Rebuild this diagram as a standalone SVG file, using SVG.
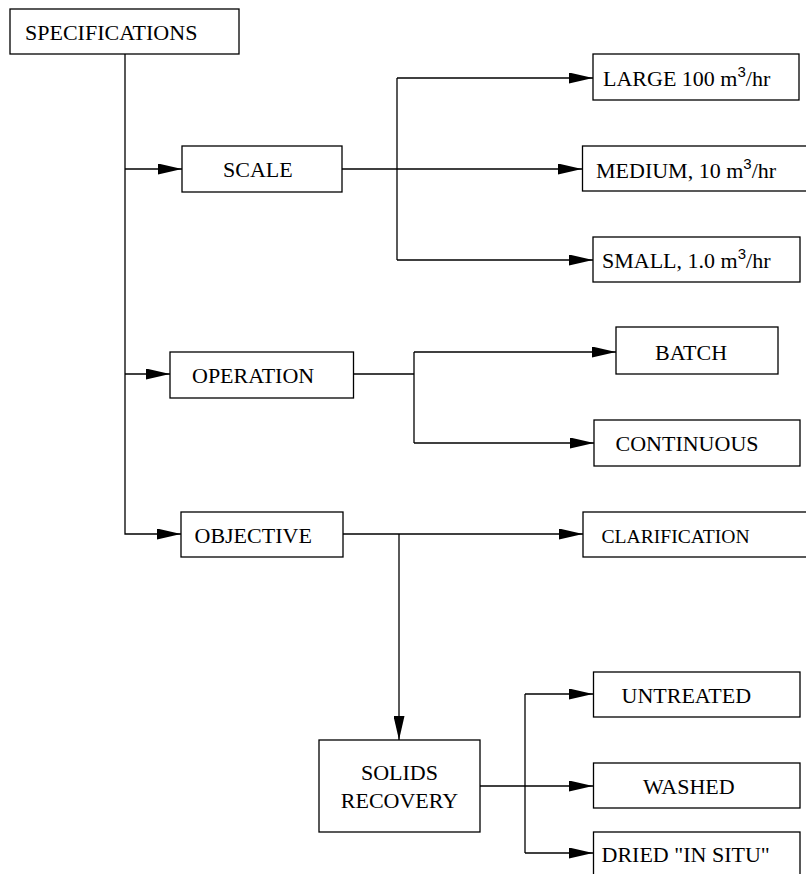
<svg xmlns="http://www.w3.org/2000/svg" width="806" height="874" viewBox="0 0 806 874">
<style>
.box{fill:#fff;stroke:#000;stroke-width:1.3}
text{font-family:'Liberation Serif','Times New Roman','DejaVu Serif',serif;font-size:22px;fill:#000}
.sup{font-family:'Liberation Sans',Arial,sans-serif;font-size:15px}
.c{fill:none;stroke:#000;stroke-width:1.3}
</style>
<defs>
<marker id="ah" viewBox="0 0 24 11" refX="24" refY="5.5" markerWidth="24" markerHeight="11" markerUnits="userSpaceOnUse" orient="auto">
<path d="M0,0 L24,5.5 L0,11 z" fill="#000"/>
</marker>
</defs>
<rect width="806" height="874" fill="#fff"/>
<g id="connectors">
<path class="c" d="M125,54 V534 H181" marker-end="url(#ah)"/>
<path class="c" d="M125,169 H182" marker-end="url(#ah)"/>
<path class="c" d="M125,374 H170" marker-end="url(#ah)"/>
<path class="c" d="M342,169 H582" marker-end="url(#ah)"/>
<path class="c" d="M397,78 V260"/>
<path class="c" d="M397,78 H593" marker-end="url(#ah)"/>
<path class="c" d="M397,260 H593" marker-end="url(#ah)"/>
<path class="c" d="M353.5,374 H414"/>
<path class="c" d="M414,352 V443"/>
<path class="c" d="M414,352 H616" marker-end="url(#ah)"/>
<path class="c" d="M414,443 H594" marker-end="url(#ah)"/>
<path class="c" d="M343,534 H583" marker-end="url(#ah)"/>
<path class="c" d="M399,534 V740" marker-end="url(#ah)"/>
<path class="c" d="M480,786 H593" marker-end="url(#ah)"/>
<path class="c" d="M525,694 V853"/>
<path class="c" d="M525,694 H593" marker-end="url(#ah)"/>
<path class="c" d="M525,853 H593" marker-end="url(#ah)"/>
</g>
<g id="specifications">
<rect class="box" x="10" y="9" width="229" height="45"/>
<text x="25" y="40">SPECIFICATIONS</text>
</g>
<g id="scale">
<rect class="box" x="182" y="146" width="160" height="46"/>
<text x="223" y="177">SCALE</text>
</g>
<g id="large">
<rect class="box" x="593" y="54" width="206" height="46"/>
<text x="603" y="86">LARGE 100 m<tspan class="sup" dy="-9">3</tspan><tspan dy="9">/hr</tspan></text>
</g>
<g id="medium">
<rect class="box" x="582.5" y="146" width="230" height="45"/>
<text x="596" y="178">MEDIUM, 10 m<tspan class="sup" dy="-9">3</tspan><tspan dy="9">/hr</tspan></text>
</g>
<g id="small">
<rect class="box" x="593" y="237" width="207" height="45"/>
<text x="602" y="268">SMALL, 1.0 m<tspan class="sup" dy="-9">3</tspan><tspan dy="9">/hr</tspan></text>
</g>
<g id="operation">
<rect class="box" x="170" y="352" width="183.5" height="46"/>
<text x="192" y="383">OPERATION</text>
</g>
<g id="batch">
<rect class="box" x="616" y="327" width="162" height="47"/>
<text x="655" y="360">BATCH</text>
</g>
<g id="continuous">
<rect class="box" x="594" y="420" width="206" height="46"/>
<text x="615.5" y="451">CONTINUOUS</text>
</g>
<g id="objective">
<rect class="box" x="181" y="512" width="162" height="45"/>
<text x="194.5" y="543">OBJECTIVE</text>
</g>
<g id="clarification">
<rect class="box" x="583" y="512" width="230" height="45"/>
<text x="601.5" y="543" style="font-size:19.6px">CLARIFICATION</text>
</g>
<g id="solids-recovery">
<rect class="box" x="319" y="740" width="161" height="92"/>
<text x="399.5" y="780" text-anchor="middle">SOLIDS</text>
<text x="399.5" y="808" text-anchor="middle">RECOVERY</text>
</g>
<g id="untreated">
<rect class="box" x="593.5" y="672" width="206.5" height="45"/>
<text x="621.5" y="703">UNTREATED</text>
</g>
<g id="washed">
<rect class="box" x="593.5" y="763" width="206.5" height="45"/>
<text x="643" y="793.5">WASHED</text>
</g>
<g id="dried">
<rect class="box" x="593.5" y="832" width="206.5" height="60"/>
<text x="601.5" y="862">DRIED "IN SITU"</text>
</g>
</svg>
